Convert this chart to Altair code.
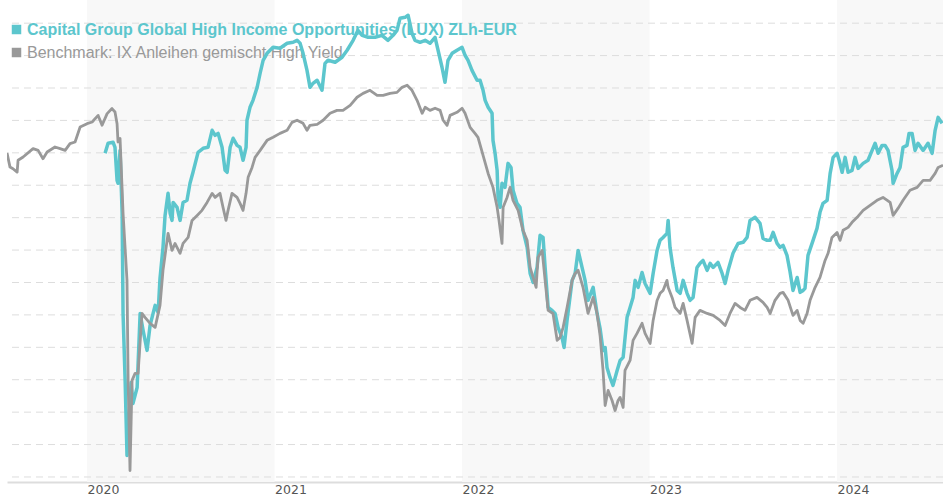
import altair as alt
import pandas as pd

# ---- data (x = decimal year, y = performance units) ----
bench_year = [2019.573, 2019.589, 2019.605, 2019.627, 2019.632, 2019.659, 2019.712, 2019.739, 2019.765, 2019.787,
              2019.829, 2019.856, 2019.883, 2019.909, 2019.936, 2019.963, 2020.000, 2020.027, 2020.059, 2020.080,
              2020.107, 2020.133, 2020.149, 2020.160, 2020.165, 2020.176, 2020.192, 2020.213, 2020.219, 2020.229,
              2020.240, 2020.256, 2020.272, 2020.293, 2020.309, 2020.336, 2020.363, 2020.389, 2020.405, 2020.432,
              2020.453, 2020.469, 2020.496, 2020.512, 2020.539, 2020.560, 2020.587, 2020.613, 2020.640, 2020.667,
              2020.683, 2020.709, 2020.725, 2020.741, 2020.752, 2020.773, 2020.800, 2020.816, 2020.832, 2020.848,
              2020.859, 2020.880, 2020.896, 2020.923, 2020.960, 2020.992, 2021.029, 2021.067, 2021.093, 2021.120,
              2021.152, 2021.173, 2021.189, 2021.227, 2021.259, 2021.296, 2021.333, 2021.365, 2021.403, 2021.440,
              2021.472, 2021.509, 2021.547, 2021.579, 2021.616, 2021.653, 2021.680, 2021.707, 2021.733, 2021.760,
              2021.787, 2021.803, 2021.829, 2021.856, 2021.883, 2021.899, 2021.920, 2021.936, 2021.973, 2022.000,
              2022.016, 2022.043, 2022.069, 2022.085, 2022.112, 2022.139, 2022.165, 2022.187, 2022.197, 2022.213,
              2022.219, 2022.240, 2022.256, 2022.272, 2022.299, 2022.325, 2022.347, 2022.363, 2022.379, 2022.395,
              2022.405, 2022.427, 2022.443, 2022.459, 2022.485, 2022.507, 2022.523, 2022.539, 2022.560, 2022.587,
              2022.603, 2022.619, 2022.645, 2022.672, 2022.699, 2022.720, 2022.736, 2022.752, 2022.763, 2022.779,
              2022.800, 2022.816, 2022.832, 2022.843, 2022.859, 2022.869, 2022.896, 2022.912, 2022.933, 2022.960,
              2022.976, 2023.003, 2023.019, 2023.040, 2023.056, 2023.072, 2023.093, 2023.099, 2023.120, 2023.136,
              2023.163, 2023.179, 2023.200, 2023.227, 2023.243, 2023.269, 2023.307, 2023.339, 2023.376, 2023.403,
              2023.429, 2023.456, 2023.483, 2023.509, 2023.536, 2023.573, 2023.605, 2023.627, 2023.643, 2023.669,
              2023.696, 2023.712, 2023.739, 2023.765, 2023.787, 2023.803, 2023.819, 2023.840, 2023.856, 2023.883,
              2023.909, 2023.936, 2023.952, 2023.973, 2024.000, 2024.016, 2024.032, 2024.059, 2024.080, 2024.107,
              2024.139, 2024.176, 2024.213, 2024.245, 2024.283, 2024.299, 2024.325, 2024.352, 2024.389, 2024.427,
              2024.459, 2024.496, 2024.523, 2024.539, 2024.565]
bench_value = [0.00, -0.88, -0.98, -1.19, -0.46, -0.26, 0.26, 0.15, -0.36, 0.05,
               0.36, 0.26, 0.15, 0.57, 0.67, 1.59, 1.80, 1.90, 2.31, 1.70,
               2.42, 2.73, 2.52, 1.80, 0.67, 0.88, -3.73, -7.87, -14.04, -19.60,
               -14.04, -13.61, -13.61, -9.91, -10.15, -10.52, -10.77, -9.41, -7.25, -4.97,
               -6.02, -5.59, -6.20, -5.59, -5.22, -4.17, -3.86, -3.55, -3.06, -2.50,
               -2.75, -2.50, -3.36, -4.17, -3.55, -2.50, -2.75, -3.12, -3.55, -2.50,
               -1.51, -0.90, -0.28, 0.15, 0.77, 0.96, 1.20, 1.39, 1.88, 2.01,
               1.82, 1.39, 1.70, 1.76, 2.01, 2.44, 2.62, 2.62, 2.93, 3.43,
               3.67, 3.86, 3.55, 3.55, 3.67, 3.73, 4.04, 4.17, 3.86, 3.24,
               2.44, 2.81, 2.62, 2.75, 2.62, 2.01, 1.70, 2.31, 2.50, 2.75,
               2.44, 1.57, 1.20, 0.96, -0.15, -1.27, -2.13, -3.36, -4.17, -5.59,
               -3.36, -2.75, -2.13, -2.93, -3.55, -4.78, -5.40, -7.07, -7.69, -8.30,
               -6.45, -6.02, -7.87, -9.72, -9.91, -11.57, -11.39, -10.77, -9.54, -7.87,
               -7.44, -7.25, -8.30, -9.91, -8.92, -9.91, -11.27, -13.43, -15.59, -14.66,
               -15.28, -15.90, -15.28, -15.09, -15.71, -13.43, -12.81, -11.57, -11.14, -10.52,
               -11.14, -11.76, -10.34, -9.11, -8.67, -8.49, -7.87, -8.30, -8.92, -9.54,
               -9.91, -9.29, -10.34, -11.76, -10.15, -9.72, -9.91, -10.03, -10.34, -10.65,
               -9.91, -9.29, -9.54, -9.72, -9.10, -8.92, -9.23, -9.54, -9.91, -9.10,
               -8.67, -8.61, -9.10, -10.03, -9.72, -10.34, -10.52, -9.91, -9.10, -8.30,
               -7.69, -6.64, -6.20, -5.22, -4.91, -5.40, -4.78, -4.60, -4.29, -3.98,
               -3.55, -3.24, -2.93, -2.75, -3.06, -3.86, -3.43, -2.93, -2.31, -2.13,
               -1.70, -1.70, -1.27, -0.90, -0.77]

fund_year = [2020.096, 2020.112, 2020.139, 2020.149, 2020.160, 2020.165, 2020.176, 2020.187, 2020.192, 2020.203,
             2020.213, 2020.235, 2020.245, 2020.267, 2020.283, 2020.299, 2020.320, 2020.336, 2020.363, 2020.379,
             2020.389, 2020.405, 2020.416, 2020.432, 2020.443, 2020.453, 2020.459, 2020.480, 2020.496, 2020.512,
             2020.533, 2020.549, 2020.565, 2020.592, 2020.619, 2020.645, 2020.667, 2020.683, 2020.699, 2020.720,
             2020.736, 2020.747, 2020.763, 2020.779, 2020.800, 2020.816, 2020.832, 2020.848, 2020.853, 2020.869,
             2020.885, 2020.907, 2020.923, 2020.939, 2020.960, 2020.992, 2021.029, 2021.067, 2021.099, 2021.120,
             2021.136, 2021.152, 2021.173, 2021.189, 2021.205, 2021.227, 2021.253, 2021.269, 2021.285, 2021.323,
             2021.360, 2021.387, 2021.419, 2021.445, 2021.467, 2021.499, 2021.536, 2021.573, 2021.605, 2021.632,
             2021.653, 2021.669, 2021.696, 2021.712, 2021.733, 2021.749, 2021.776, 2021.803, 2021.829, 2021.856,
             2021.872, 2021.893, 2021.909, 2021.925, 2021.947, 2021.973, 2022.000, 2022.016, 2022.032, 2022.053,
             2022.080, 2022.096, 2022.112, 2022.123, 2022.139, 2022.160, 2022.165, 2022.176, 2022.187, 2022.192,
             2022.203, 2022.213, 2022.229, 2022.245, 2022.261, 2022.272, 2022.293, 2022.309, 2022.325, 2022.347,
             2022.363, 2022.379, 2022.400, 2022.416, 2022.432, 2022.443, 2022.459, 2022.480, 2022.496, 2022.512,
             2022.533, 2022.544, 2022.560, 2022.587, 2022.603, 2022.619, 2022.640, 2022.656, 2022.672, 2022.699,
             2022.720, 2022.736, 2022.752, 2022.763, 2022.773, 2022.789, 2022.805, 2022.827, 2022.843, 2022.859,
             2022.880, 2022.896, 2022.912, 2022.923, 2022.939, 2022.960, 2022.976, 2023.003, 2023.019, 2023.040,
             2023.056, 2023.072, 2023.093, 2023.099, 2023.109, 2023.125, 2023.147, 2023.163, 2023.179, 2023.200,
             2023.216, 2023.232, 2023.253, 2023.269, 2023.285, 2023.307, 2023.323, 2023.339, 2023.365, 2023.387,
             2023.403, 2023.419, 2023.445, 2023.472, 2023.499, 2023.520, 2023.536, 2023.563, 2023.589, 2023.605,
             2023.627, 2023.643, 2023.659, 2023.680, 2023.696, 2023.712, 2023.733, 2023.749, 2023.765, 2023.787,
             2023.803, 2023.819, 2023.829, 2023.845, 2023.872, 2023.893, 2023.909, 2023.925, 2023.947, 2023.963,
             2023.979, 2024.000, 2024.011, 2024.027, 2024.043, 2024.059, 2024.080, 2024.096, 2024.112, 2024.139,
             2024.165, 2024.187, 2024.203, 2024.219, 2024.240, 2024.256, 2024.272, 2024.293, 2024.299, 2024.320,
             2024.336, 2024.352, 2024.373, 2024.384, 2024.400, 2024.416, 2024.432, 2024.459, 2024.485, 2024.507,
             2024.523, 2024.539, 2024.560]
fund_value = [-0.03, 0.59, 0.65, 0.34, -1.70, -1.88, 0.15, -3.73, -9.91, -14.04,
              -18.67, -14.17, -15.46, -14.48, -9.91, -10.96, -12.19, -10.65, -9.41, -9.85,
              -7.75, -5.83, -3.86, -2.50, -3.73, -4.17, -3.06, -3.36, -4.17, -3.06,
              -2.93, -1.88, -1.20, 0.03, 0.28, 0.34, 1.39, 1.08, 1.20, 0.34,
              -1.08, -1.20, 0.34, 0.90, 0.46, 0.34, -0.46, 0.34, 2.01, 2.81,
              3.24, 4.04, 4.91, 5.71, 6.14, 6.51, 6.45, 6.76, 6.82, 6.94,
              6.76, 6.14, 5.09, 4.04, 4.29, 4.48, 3.86, 5.52, 5.71, 5.59,
              5.90, 6.33, 6.94, 7.56, 7.25, 7.13, 7.13, 7.25, 6.94, 7.25,
              7.56, 8.30, 8.36, 8.49, 7.38, 6.94, 6.82, 6.94, 6.76, 7.13,
              6.33, 5.28, 4.35, 5.71, 6.14, 6.33, 6.51, 6.02, 5.71, 5.09,
              4.48, 4.48, 3.86, 3.24, 2.81, 2.44, 0.77, -0.03, -1.08, -2.75,
              -3.36, -1.88, -2.13, -0.65, -0.90, -2.31, -3.12, -3.36, -4.78, -5.83,
              -7.44, -7.99, -7.07, -5.09, -5.22, -7.07, -9.54, -9.72, -9.91, -10.77,
              -11.39, -12.01, -10.34, -7.87, -7.44, -6.02, -7.07, -7.87, -9.10, -8.30,
              -9.91, -10.83, -12.19, -12.01, -13.24, -13.86, -14.35, -13.43, -12.81, -12.62,
              -10.15, -9.54, -8.92, -7.87, -8.30, -7.38, -8.06, -8.67, -7.44, -6.02,
              -5.40, -5.22, -4.97, -4.17, -5.83, -7.07, -8.49, -8.67, -7.87, -8.67,
              -9.10, -8.92, -7.07, -6.82, -6.64, -7.25, -6.82, -7.07, -6.76, -7.44,
              -8.06, -7.25, -6.20, -5.59, -5.52, -5.22, -4.17, -3.98, -4.35, -5.28,
              -5.40, -5.40, -4.91, -5.59, -5.83, -5.71, -6.33, -7.32, -8.49, -7.69,
              -8.61, -8.49, -8.36, -6.33, -5.40, -4.66, -3.67, -3.12, -2.93, -1.27,
              -0.28, -0.03, -0.46, -1.20, -0.28, -1.20, -1.08, -0.28, -0.96, -0.65,
              -0.46, 0.15, 0.59, -0.03, 0.46, 0.46, 0.15, -1.08, -1.88, -1.27,
              -0.90, 0.34, 0.46, 1.20, 1.20, 0.15, 0.59, 0.15, 0.59, -0.03,
              1.39, 2.19, 1.82]

year_ticks = [2020, 2021, 2022, 2023, 2024]
band_start = [2020, 2022, 2024]
band_end = [2021, 2023, 2025]
grid_values = [-20, -18, -16, -14, -12, -10, -8, -6, -4, -2, 0, 2, 4, 6, 8]
fund_label = ["Capital Group Global High Income Opportunities (LUX) ZLh-EUR"]
bench_label = ["Benchmark: IX Anleihen gemischt High Yield"]

TEAL = "#5cc6cd"
GRAY = "#999999"
W, H = 936, 482

xs = alt.Scale(domain=[2019.573, 2024.565], nice=False, zero=False)
ys = alt.Scale(domain=[-20.31, 9.43], nice=False, zero=False)
x_axis = alt.Axis(values=year_ticks, format="d", labelAlign="left", labelBaseline="top",
                  labelPadding=1, labelFontSize=12.5, labelColor="#555555", labelFont="DejaVu Sans",
                  ticks=False, grid=False, domainColor="#dddddd", domainWidth=2, title=None,
                  labelOverlap=False)

bands = alt.Chart(pd.DataFrame({"start": band_start, "end": band_end})).mark_rect(
    color="#f8f8f8", clip=True
).encode(
    x=alt.X("start:Q", scale=xs, axis=x_axis),
    x2="end:Q",
)

grid = alt.Chart(pd.DataFrame({"g": grid_values})).mark_rule(
    color="#dddddd", strokeWidth=1, strokeDash=[7, 5]
).encode(y=alt.Y("g:Q", scale=ys, axis=None))

fund_df = pd.DataFrame({"year": fund_year, "value": fund_value})
bench_df = pd.DataFrame({"year": bench_year, "value": bench_value})

fund_line = alt.Chart(fund_df).mark_line(color=TEAL, strokeWidth=3.5, strokeJoin="round", clip=True).encode(
    x=alt.X("year:Q", scale=xs, axis=x_axis),
    y=alt.Y("value:Q", scale=ys, axis=None),
)
bench_line = alt.Chart(bench_df).mark_line(color=GRAY, strokeWidth=2.8, strokeJoin="round", clip=True).encode(
    x=alt.X("year:Q", scale=xs, axis=x_axis),
    y=alt.Y("value:Q", scale=ys, axis=None),
)

leg1_sq = alt.Chart(pd.DataFrame({"t": fund_label})).mark_square(size=90, color=TEAL, opacity=1).encode(
    x=alt.value(9.5), y=alt.value(29.5))
leg1_tx = alt.Chart(pd.DataFrame({"t": fund_label})).mark_text(
    align="left", baseline="middle", fontSize=16, fontWeight="bold", color=TEAL, font="Liberation Sans"
).encode(x=alt.value(20), y=alt.value(30), text="t:N")
leg2_sq = alt.Chart(pd.DataFrame({"t": bench_label})).mark_square(size=90, color=GRAY, opacity=1).encode(
    x=alt.value(9.5), y=alt.value(52.5))
leg2_tx = alt.Chart(pd.DataFrame({"t": bench_label})).mark_text(
    align="left", baseline="middle", fontSize=16, color=GRAY, font="Liberation Sans"
).encode(x=alt.value(20), y=alt.value(53), text="t:N")

chart = alt.layer(
    bands, grid, leg1_sq, leg1_tx, leg2_sq, leg2_tx, fund_line, bench_line
).properties(
    width=W, height=H, autosize="none",
    padding={"left": 7, "top": 0, "right": 0, "bottom": 18},
).configure_view(stroke=None)

chart.save("out.html", embed_options={"renderer": "svg", "actions": False})
